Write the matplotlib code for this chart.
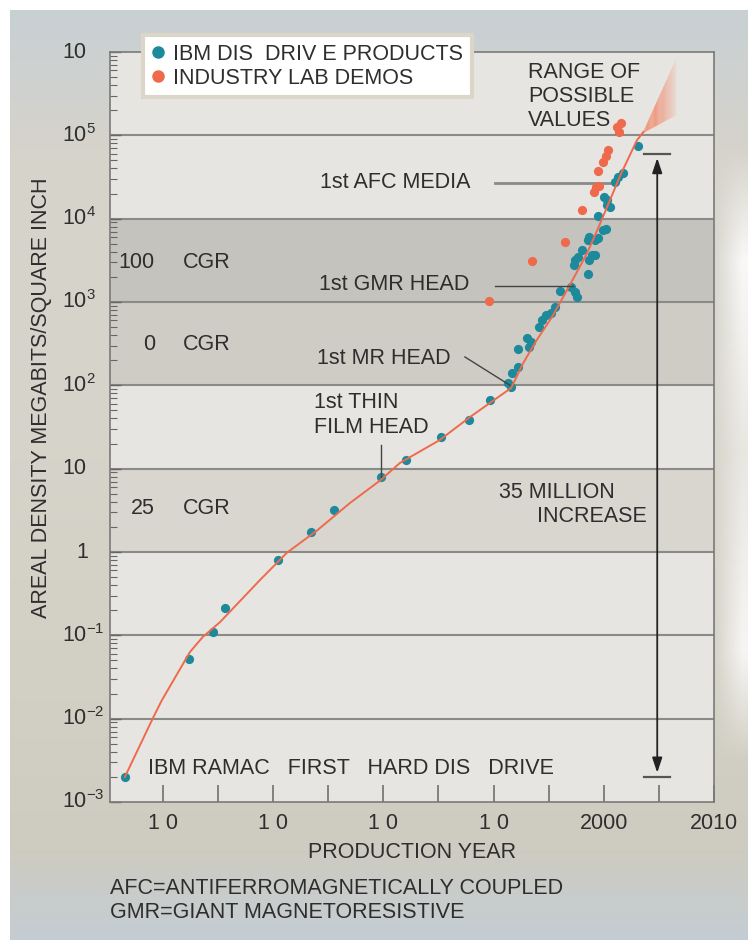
import numpy as np
import matplotlib
matplotlib.use('Agg')
import matplotlib.pyplot as plt
from matplotlib.lines import Line2D

plt.rcParams['font.family']=['Liberation Sans','DejaVu Sans']
plt.rcParams['mathtext.fontset']='custom'
plt.rcParams['mathtext.rm']='Liberation Sans'
plt.rcParams['mathtext.default']='regular'

# IBM disk drive products (year, Mb/in^2)
ibm_year=[1956.6,1962.4,1964.5,1965.6,1970.4,1973.4,1975.5,1979.8,1982.1,1985.2,1987.8,1989.7,
	1991.6,1991.3,1991.7,1992.2,1992.2,1993.2,1993.0,1993.4,1994.1,1994.4,1994.8,1995.2,1995.6,
	1996.0,1997.0,1997.4,1997.6,1997.3,1997.4,1997.7,1998.0,1998.6,1999.2,1998.7,1998.9,1999.2,
	1998.6,1999.9,1998.7,1999.5,2000.2,1999.5,2000.3,2000.6,2000.0,2000.3,2001.0,2001.7,2001.3,2003.1]
ibm_density=[2e-3,0.052,0.11,0.21,0.8,1.74,3.2,7.9,12.7,24,38,66,
	95,107,141,166,273,288,370,331,500,605,690,740,870,
	1370,1510,1320,1150,2760,3160,3470,4170,5500,5500,3160,3630,3630,
	2190,7240,6000,5900,7600,10700,14500,13800,18000,16600,27400,35000,31600,74000]

# industry lab demos
lab_year=[1989.6,1993.5,1996.5,1998.0,1999.1,1999.3,1999.6,1999.5,1999.9,2000.2,2000.4,2001.4,2001.6,2001.2]
lab_density=[1030,3100,5250,12600,21000,24000,25000,37000,48000,57000,66000,110000,140000,126000]

# trend curve
trend_year=[1956.55,1959.1,1959.9,1962.45,1963.6,1965.2,1968.8,1971.25,1974.0,1977.0,1979.7,1981.5,
	1985.1,1987.9,1991.6,1992.7,1993.9,1995.3,1996.9,1998.5,1999.4,2000.3,2001.5,2003.0,2003.6]
trend_density=[2e-3,1.02e-2,1.66e-2,6.3e-2,9.5e-2,0.145,0.46,0.98,1.82,3.9,7.2,11.7,
	22,42,93,186,347,660,1580,3890,7240,13800,33100,87000,110000]

# range of possible values (fan)
fan_year=[2003.5,2006.6]
fan_low=[1.05e5,1.75e5]
fan_high=[1.05e5,8.5e5]

# compound growth rate bands
band_low=[1e3,1e2,1]
band_high=[1e4,1e3,10]
band_color=['#c5c3bd','#cfccc6','#d9d6d0']
band_rate=['100','0','25']

arrow_year=2004.85
arrow_top=6.0e4
arrow_bottom=2.0e-3

year_ticks=[1960,1970,1980,1990,2000,2010]
year_labels=['1 0','1 0','1 0','1 0','2000','2010']
ytick_vals=[1e6,1e5,1e4,1e3,1e2,10,1,1e-1,1e-2,1e-3]
ytick_labels=['10','$10^5$','$10^4$','$10^3$','$10^2$','10','1','$10^{-1}$','$10^{-2}$','$10^{-3}$']

W,H=748,940
TEAL='#1d8a9c'
ORANGE='#ef6a4c'
TXT='#2e2e2e'
fs=15.5

def px(x,y):
	return(x/W,1-y/H)

fig=plt.figure(figsize=(W/100,H/100),dpi=100)
fig.patch.set_facecolor('white')

# background gradient
bg=fig.add_axes([0,0,1,1])
bg.set_axis_off()
rows=np.arange(H)
stops=[10,150,400,700,850,940]
cols=np.array([[200,208,212],[214,211,203],[215,212,203],[210,207,196],[206,203,193],[196,205,212]])/255.
img=np.zeros((H,W,3))
for c in range(3):
	img[:,:,c]=np.interp(rows,stops,cols[:,c])[:,None]
xs=np.arange(W)
fade=np.clip((xs-712)/30.,0,1)[None,:]*np.interp(rows,[150,260,450,650,760],[0,0.85,0.45,0.8,0])[:,None]
img=img*(1-fade[:,:,None])+fade[:,:,None]
img[:10,:,:]=1
img[:,:10,:]=1
bg.imshow(img,extent=[0,1,0,1],aspect='auto')
bg.set_xlim(0,1);bg.set_ylim(0,1)

ax=fig.add_axes([110/W,1-802/H,604/W,750/H])
ax.set_facecolor('#e6e5e1')
ax.set_yscale('log')
ax.set_xlim(1955.2,2010)
ax.set_ylim(1e-3,1e6)

for lo,hi,col in zip(band_low,band_high,band_color):
	ax.axhspan(lo,hi,color=col,zorder=0,lw=0)
for d in [1e-2,1e-1,1,10,1e2,1e3,1e4,1e5]:
	ax.axhline(d,color='#8a8a88',lw=1.5,zorder=1)

for s in ax.spines.values():
	s.set_color('#7a7a78')
	s.set_linewidth(1.2)

ax.set_xticks(year_ticks)
ax.set_xticklabels(year_labels,fontsize=fs,color=TXT)
ax.set_xticks(np.arange(1965,2010,10),minor=True)
ax.tick_params(axis='x',which='both',direction='in',length=12,width=1.1,color='#666',pad=8)
ax.tick_params(axis='y',which='major',direction='in',length=8,width=1,color='#666',labelleft=False)
ax.tick_params(axis='y',which='minor',direction='in',length=5,width=0.8,color='#666',labelleft=False)

# fan of possible values
n=30
lf=np.log10(fan_low);hf=np.log10(fan_high)
for i in range(n):
	t0=i/n;t1=(i+1)/n
	x0=fan_year[0]+t0*(fan_year[1]-fan_year[0]);x1=fan_year[0]+t1*(fan_year[1]-fan_year[0])
	l0=lf[0]+t0*(lf[1]-lf[0]);l1=lf[0]+t1*(lf[1]-lf[0])
	h0=hf[0]+t0*(hf[1]-hf[0]);h1=hf[0]+t1*(hf[1]-hf[0])
	a=0.8 if t0<0.35 else 0.8*(1-(t0-0.35)/0.65)**0.8
	ax.fill([x0,x1,x1,x0],[10**l0,10**l1,10**h1,10**h0],color='#f3886a',alpha=a,lw=0,zorder=3)

ax.scatter(ibm_year,ibm_density,s=44,color=TEAL,zorder=4,lw=0)
ax.scatter(lab_year,lab_density,s=44,color=ORANGE,zorder=4,lw=0)
ax.plot(trend_year,trend_density,color=ORANGE,lw=1.4,zorder=5)

# 35 million arrow
ax.annotate('',xy=(arrow_year,arrow_top),xytext=(arrow_year,arrow_bottom),
	arrowprops=dict(arrowstyle='<|-|>,head_length=0.9,head_width=0.3',color='#222',lw=1.3,shrinkA=3,shrinkB=3),zorder=6)
ax.plot([arrow_year-1.2,arrow_year+1.2],[arrow_top,arrow_top],color='#555',lw=1.6,zorder=6)
ax.plot([arrow_year-1.2,arrow_year+1.2],[arrow_bottom,arrow_bottom],color='#555',lw=1.6,zorder=6)

# leader lines for the milestones
ax.plot([1990.1,2001.0],[2.7e4,2.7e4],color='#8a8a8a',lw=2,zorder=2)
ax.plot([1990.1,1997.2],[1550,1550],color='#444',lw=1,zorder=6)
ax.plot([1987.4,1991.5],[219,100],color='#444',lw=1,zorder=6)
ax.plot([1979.8,1979.8],[19,8],color='#444',lw=1,zorder=6)

# legend
leg_handles=[Line2D([],[],ls='',marker='o',ms=8,color=TEAL),Line2D([],[],ls='',marker='o',ms=8,color=ORANGE)]
leg=ax.legend(leg_handles,['IBM DIS  DRIV E PRODUCTS','INDUSTRY LAB DEMOS'],loc='upper left',
	bbox_to_anchor=px(143,35),bbox_transform=fig.transFigure,fontsize=fs,frameon=True,fancybox=False,
	handlelength=0.6,handletextpad=0.4,labelspacing=0.15,borderpad=0.4,borderaxespad=0,framealpha=1)
leg.get_frame().set_edgecolor('#dcd6c9')
leg.get_frame().set_linewidth(3)
for t in leg.get_texts():
	t.set_color(TXT)
leg.set_zorder(10)

# y tick labels
for v,lab in zip(ytick_vals,ytick_labels):
	yy=802-(np.log10(v)+3)*750/9.
	xx=76 if lab=='1' else 62
	fig.text(*px(xx,yy),lab,fontsize=fs,color=TXT,ha='left',va='center')

fig.text(*px(42,398),'AREAL DENSITY MEGABITS/SQUARE INCH',rotation=90,fontsize=fs,color=TXT,ha='center',va='center')
fig.text(*px(412,853),'PRODUCTION YEAR',fontsize=fs,color=TXT,ha='center',va='center')
fig.text(*px(110,888),'AFC=ANTIFERROMAGNETICALLY COUPLED',fontsize=fs,color=TXT,ha='left',va='center')
fig.text(*px(110,913),'GMR=GIANT MAGNETORESISTIVE',fontsize=fs,color=TXT,ha='left',va='center')

# band labels
for rate,yy in zip(band_rate,[263,345,508]):
	fig.text(*px(155,yy),rate,fontsize=fs,color=TXT,ha='right',va='center')
	fig.text(*px(183,yy),'CGR',fontsize=fs,color=TXT,ha='left',va='center')

fig.text(*px(528,72),'RANGE OF',fontsize=fs,color=TXT,ha='left',va='center')
fig.text(*px(528,97),'POSSIBLE',fontsize=fs,color=TXT,ha='left',va='center')
fig.text(*px(528,121),'VALUES',fontsize=fs,color=TXT,ha='left',va='center')
fig.text(*px(471,183),'1st AFC MEDIA',fontsize=fs,color=TXT,ha='right',va='center')
fig.text(*px(469,285),'1st GMR HEAD',fontsize=fs,color=TXT,ha='right',va='center')
fig.text(*px(451,358),'1st MR HEAD',fontsize=fs,color=TXT,ha='right',va='center')
fig.text(*px(314,403),'1st THIN',fontsize=fs,color=TXT,ha='left',va='center')
fig.text(*px(314,427),'FILM HEAD',fontsize=fs,color=TXT,ha='left',va='center')
fig.text(*px(499,493),'35 MILLION',fontsize=fs,color=TXT,ha='left',va='center')
fig.text(*px(647,517),'INCREASE',fontsize=fs,color=TXT,ha='right',va='center')
fig.text(*px(148,768),'IBM RAMAC   FIRST   HARD DIS   DRIVE',fontsize=fs,color=TXT,ha='left',va='center')

fig.savefig('out.png',dpi=100)
